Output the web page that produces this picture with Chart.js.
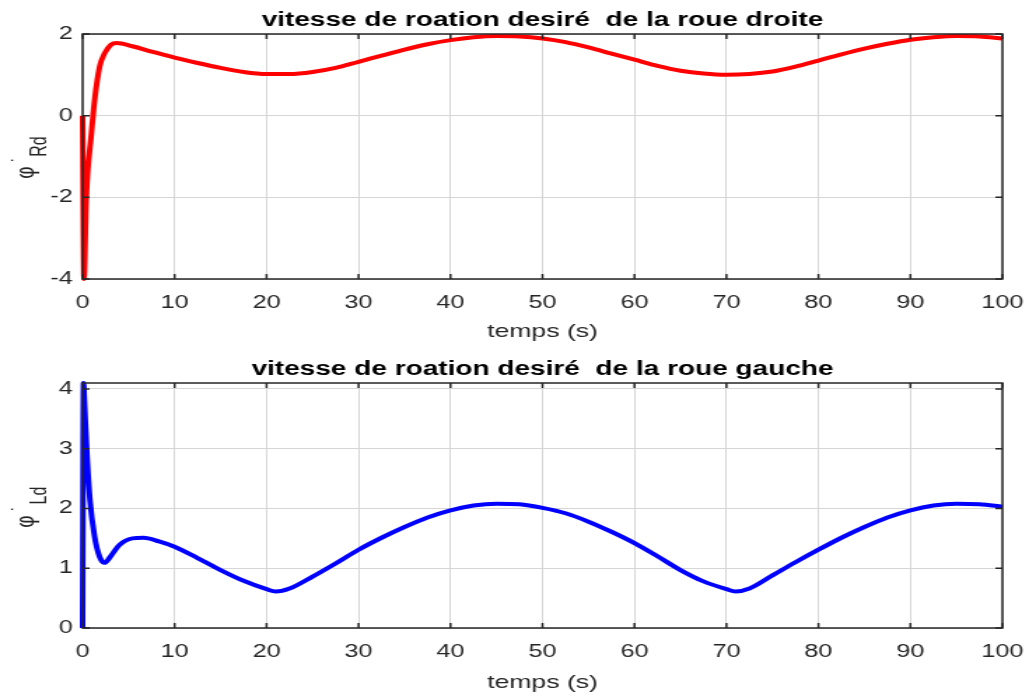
<!DOCTYPE html>
<html>
<head>
<meta charset="utf-8">
<script src="https://cdn.jsdelivr.net/npm/chart.js@4"></script>
<style>
html, body { margin: 0; padding: 0; background: #fff; }
canvas { display: block; }
</style>
</head>
<body>
<!-- drawn narrow and stretched wide, like the reference picture -->
<canvas id="chartR" width="735" height="348" style="width:1029px;height:348px"></canvas>
<canvas id="chartL" width="735" height="349" style="width:1029px;height:349px"></canvas>
<script>
// right wheel
var tRight = [0, 0.15, 0.4, 0.95, 1.3, 1.85, 2.4, 3.1, 3.7, 5.4, 7.5, 10, 12.5, 15, 17.5, 20, 22.5, 25, 27.5, 30,
  32.5, 35, 37.5, 40, 42.5, 45, 47.5, 50, 52.5, 55, 57.5, 60, 62.5, 65, 67.5, 70, 72.5, 75, 77.5, 80,
  82.5, 85, 87.5, 90, 92.5, 95, 97.5, 100];
var phiRight = [0, -4, -2, -0.45, 0.37, 1.2, 1.53, 1.74, 1.78, 1.7, 1.57, 1.42, 1.29, 1.17, 1.07, 1.02, 1.02, 1.07, 1.17, 1.32,
  1.47, 1.62, 1.75, 1.85, 1.92, 1.95, 1.94, 1.89, 1.8, 1.67, 1.52, 1.37, 1.22, 1.1, 1.03, 1.0, 1.02, 1.08, 1.2, 1.35,
  1.5, 1.64, 1.76, 1.86, 1.92, 1.95, 1.94, 1.89];

// left wheel
var tLeft = [0, 0.1, 0.2, 0.45, 0.8, 1.3, 1.85, 2.4, 2.9, 4, 5.4, 6.6, 8.3, 10, 12.5, 15, 17.5, 20, 21, 22.5,
  25, 27.5, 30, 32.5, 35, 37.5, 40, 42.5, 45, 47.5, 50, 52.5, 55, 57.5, 60, 62.5, 65, 67.5, 70, 71,
  72.5, 75, 77.5, 80, 82.5, 85, 87.5, 90, 92.5, 95, 97.5, 100];
var phiLeft = [0, 4.1, 3.8, 2.97, 2.14, 1.53, 1.19, 1.09, 1.17, 1.39, 1.5, 1.51, 1.45, 1.36, 1.17, 0.97, 0.79, 0.65, 0.61, 0.66,
  0.86, 1.08, 1.31, 1.51, 1.69, 1.85, 1.97, 2.05, 2.08, 2.07, 2.01, 1.92, 1.78, 1.61, 1.42, 1.2, 0.97, 0.78, 0.65, 0.61,
  0.66, 0.88, 1.1, 1.31, 1.51, 1.69, 1.85, 1.97, 2.05, 2.08, 2.07, 2.03];

var titleRight = 'vitesse de roation desiré  de la roue droite';
var titleLeft = 'vitesse de roation desiré  de la roue gauche';
var xLabel = 'temps (s)';

var FONT = '"Liberation Sans", Arial, sans-serif';

function toPoints(xs, ys) {
  return xs.map(function (x, i) { return { x: x, y: ys[i] }; });
}

// matlab style box, inward ticks, title and phi label
var matlabFrame = {
  id: 'matlabFrame',
  afterDatasetsDraw: function (chart, args, opts) {
    var ctx = chart.ctx, a = chart.chartArea;
    var xs = chart.scales.x, ys = chart.scales.y;
    ctx.save();
    ctx.strokeStyle = '#262626';
    ctx.lineWidth = 1.5;
    ctx.strokeRect(a.left, a.top, a.right - a.left, a.bottom - a.top);
    ctx.beginPath();
    xs.ticks.forEach(function (t) {
      var px = xs.getPixelForValue(t.value);
      ctx.moveTo(px, a.bottom); ctx.lineTo(px, a.bottom - 5);
      ctx.moveTo(px, a.top); ctx.lineTo(px, a.top + 5);
    });
    ys.ticks.forEach(function (t) {
      var py = ys.getPixelForValue(t.value);
      ctx.moveTo(a.left, py); ctx.lineTo(a.left + 5, py);
      ctx.moveTo(a.right, py); ctx.lineTo(a.right - 5, py);
    });
    ctx.stroke();

    ctx.fillStyle = '#000';
    ctx.font = 'bold 20px ' + FONT;
    ctx.textAlign = 'center';
    ctx.textBaseline = 'alphabetic';
    ctx.fillText(opts.title, (a.left + a.right) / 2, opts.titleY);

    ctx.fillStyle = '#262626';
    ctx.translate(19, (a.top + a.bottom) / 2);
    ctx.rotate(-Math.PI / 2);
    ctx.textBaseline = 'middle';
    ctx.font = '19px ' + FONT;
    ctx.fillText('φ', -16, 0);
    ctx.font = '16px ' + FONT;
    ctx.fillText(opts.sub, 10, 10);
    ctx.textBaseline = 'alphabetic';
    ctx.fillText('˙', -3, 1);
    ctx.restore();
  }
};

function makeChart(id, xs, ys, color, yMin, yMax, yStep, title, titleY, sub, top, xHeight, xPadBottom) {
  var ctx = document.getElementById(id).getContext('2d');
  return new Chart(ctx, {
    type: 'line',
    data: {
      datasets: [{
        data: toPoints(xs, ys),
        borderColor: color,
        borderWidth: 4,
        pointRadius: 0,
        fill: false,
        clip: 3,
        cubicInterpolationMode: 'monotone'
      }]
    },
    plugins: [matlabFrame],
    options: {
      responsive: false,
      animation: false,
      devicePixelRatio: 1,
      layout: { padding: { top: top, right: 19, bottom: 0, left: 0 } },
      plugins: {
        legend: { display: false },
        tooltip: { enabled: false },
        matlabFrame: { title: title, titleY: titleY, sub: sub }
      },
      scales: {
        x: {
          type: 'linear',
          min: 0,
          max: 100,
          ticks: { stepSize: 10, padding: 13, color: '#262626', font: { family: FONT, size: 18 } },
          grid: { color: '#d6d6d6', lineWidth: 1, drawTicks: false },
          border: { display: false },
          title: {
            display: true, text: xLabel, color: '#262626',
            font: { family: FONT, size: 19 }, padding: { top: 0, bottom: xPadBottom }
          },
          afterFit: function (scale) {
            scale.height = xHeight;
            scale.paddingLeft = 0;
            scale.paddingRight = 0;
          }
        },
        y: {
          min: yMin,
          max: yMax,
          ticks: { stepSize: yStep, includeBounds: false, padding: 7, color: '#262626', font: { family: FONT, size: 18 } },
          grid: { color: '#d6d6d6', lineWidth: 1, drawTicks: false },
          border: { display: false },
          afterFit: function (scale) {
            scale.width = 59;
            scale.paddingTop = 0;
            scale.paddingBottom = 0;
          }
        }
      }
    }
  });
}

makeChart('chartR', tRight, phiRight, '#ff0000', -4, 2, 2, titleRight, 26, 'Rd', 34, 69, 4.6);
makeChart('chartL', tLeft, phiLeft, '#0000ff', 0, 4.1, 1, titleLeft, 27, 'Ld', 35, 69, 2.6);
</script>
</body>
</html>
